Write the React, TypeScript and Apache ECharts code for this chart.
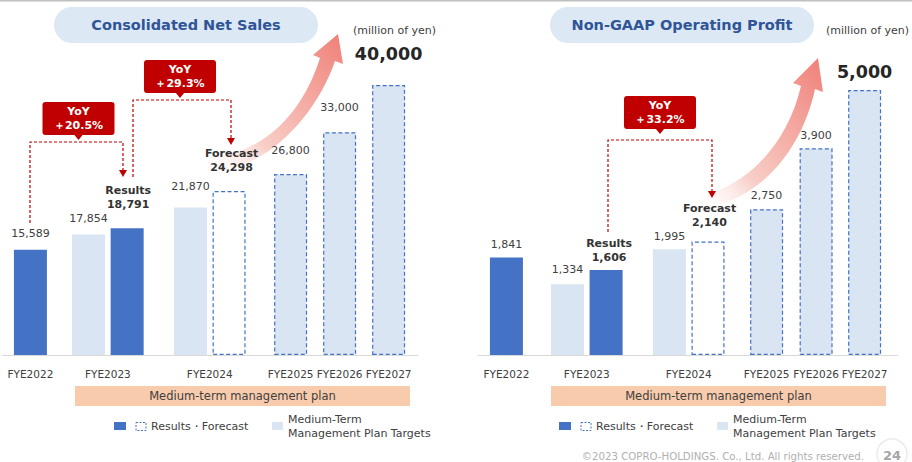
import React, { useEffect, useRef } from 'react';
import * as echarts from 'echarts';

// ---------- data ----------
const categories = ['FYE2022', 'FYE2023', 'FYE2024', 'FYE2025', 'FYE2026', 'FYE2027'];
// Consolidated Net Sales (million of yen)
const salesResults = [15589, 18791]; // FYE2022, FYE2023 results
const salesForecast = [24298]; // FYE2024 forecast
const salesTargets = [17854, 21870, 26800, 33000, 40000]; // FYE2023..FYE2027 plan targets
const salesYoY = [20.5, 29.3];
// Non-GAAP Operating Profit (million of yen)
const profitResults = [1841, 1606];
const profitForecast = [2140];
const profitTargets = [1334, 1995, 2750, 3900, 5000];
const profitYoY = [33.2];

// ---------- layout ----------
const leftCenters = [2.9, 10.8, 21.2, 29.45, 34.45, 39.45];
const rightCenters = [2.9, 11.1, 21.5, 29.45, 34.5, 39.45];
const PAIR = 1.97;
const FONT = 'DejaVu Sans';
const DARK = '#4472c4';
const LIGHT = '#dae5f4';
const TXT = '#404040';
const RED = '#c00000';

const fmt = (v: number) => v.toLocaleString('en-US');

type LabelCfg = { d: number; dx?: number; title?: string; big?: boolean };

function makeLabel(cfg: LabelCfg) {
  if (cfg.title) {
    return {
      show: true,
      position: 'top',
      distance: cfg.d,
      offset: [cfg.dx || 0, 0],
      formatter: (p: any) => `{t|${cfg.title}}\n{v|${fmt(p.value[1])}}`,
      rich: {
        t: { fontFamily: FONT, fontWeight: 'bold', fontSize: 11, color: '#333', lineHeight: 14 },
        v: { fontFamily: FONT, fontWeight: 'bold', fontSize: 11, color: '#333', lineHeight: 14 },
      },
    };
  }
  if (cfg.big) {
    return {
      show: true,
      position: 'top',
      distance: cfg.d,
      formatter: (p: any) => fmt(p.value[1]),
      fontFamily: FONT,
      fontWeight: 'bold',
      fontSize: 17.5,
      lineHeight: 22,
      color: '#262626',
    };
  }
  return {
    show: true,
    position: 'top',
    distance: cfg.d,
    offset: [cfg.dx || 0, 0],
    formatter: (p: any) => fmt(p.value[1]),
    fontFamily: FONT,
    fontSize: 11,
    lineHeight: 13,
    color: TXT,
  };
}

const dashedStyle = { color: '#ffffff', borderColor: DARK, borderWidth: 1.2, borderType: [4, 2.5] };
const dashedLight = { color: LIGHT, borderColor: DARK, borderWidth: 1.2, borderType: [4, 2.5] };

function buildSeries(
  idx: number,
  centers: number[],
  results: number[],
  forecast: number[],
  targets: number[],
  resLabels: LabelCfg[],
  fcLabel: LabelCfg,
  tgtLabels: LabelCfg[]
) {
  const resultData = [
    { value: [centers[0], results[0]], itemStyle: { color: DARK }, label: makeLabel(resLabels[0]) },
    { value: [centers[1] + PAIR, results[1]], itemStyle: { color: DARK }, label: makeLabel(resLabels[1]) },
    { value: [centers[2] + PAIR, forecast[0]], itemStyle: dashedStyle, label: makeLabel(fcLabel) },
  ];
  const targetData = targets.map((v, i) => {
    const cat = i + 1;
    const x = cat <= 2 ? centers[cat] - PAIR : centers[cat];
    return {
      value: [x, v],
      itemStyle: cat <= 2 ? { color: LIGHT } : dashedLight,
      label: makeLabel(tgtLabels[i]),
    };
  });
  return [
    {
      type: 'bar',
      name: 'Medium-Term Management Plan Targets',
      xAxisIndex: idx,
      yAxisIndex: idx,
      barWidth: 33,
      barGap: '-100%',
      data: targetData,
      z: 2,
    },
    {
      type: 'bar',
      name: 'Results・Forecast',
      xAxisIndex: idx,
      yAxisIndex: idx,
      barWidth: 33,
      barGap: '-100%',
      data: resultData,
      z: 3,
    },
  ];
}

function xAxisFor(idx: number, centers: number[], max: number) {
  return {
    type: 'value',
    gridIndex: idx,
    min: 0,
    max,
    axisLine: { show: true, onZero: false, lineStyle: { color: '#d9d9d9', width: 1 } },
    axisTick: { show: false },
    splitLine: { show: false },
    axisLabel: {
      show: true,
      customValues: centers,
      hideOverlap: false,
      showMinLabel: true,
      showMaxLabel: true,
      margin: 13,
      fontFamily: FONT,
      fontSize: 10.5,
      color: TXT,
      formatter: (v: number) => {
        let best = 0;
        centers.forEach((c, i) => {
          if (Math.abs(c - v) < Math.abs(centers[best] - v)) best = i;
        });
        return categories[best];
      },
    },
  };
}

echarts.graphic.registerShape(
  'growthArrowL',
  echarts.graphic.extendPath(
    'M207,157 C262,155 302,115 320,58 L313,55 L338,34 L343,64 L335,61 C317,114 268,170 209,172 Z',
    {}
  )
);
echarts.graphic.registerShape(
  'growthArrowR',
  echarts.graphic.extendPath(
    'M700,196 C745,187 787,146 801,86 L793,83 L818,58 L823,92 L815,89 C802,150 760,200 704,208 Z',
    {}
  )
);

function arrowFill() {
  return new echarts.graphic.LinearGradient(0, 1, 1, 0, [
    { offset: 0, color: 'rgba(255,255,255,0.2)' },
    { offset: 0.3, color: '#f8cfc8' },
    { offset: 1, color: '#ef8078' },
  ]);
}

function callout(cx: number, top: number, yoy: number) {
  const w = 72;
  const h = 33;
  return [
    { type: 'rect', shape: { x: cx - w / 2, y: top, width: w, height: h, r: 3 }, style: { fill: RED } },
    {
      type: 'polygon',
      shape: { points: [[cx - 4.5, top + h - 0.5], [cx + 4.5, top + h - 0.5], [cx, top + h + 5]] },
      style: { fill: RED },
    },
    {
      type: 'text',
      x: cx,
      y: top + h / 2,
      style: {
        text: `YoY\n＋${yoy.toFixed(1)}%`,
        fontFamily: FONT,
        fontWeight: 'bold',
        fontSize: 11,
        lineHeight: 14,
        fill: '#ffffff',
        align: 'center',
        verticalAlign: 'middle',
      },
    },
  ];
}

function bracket(x1: number, y1: number, yTop: number, x2: number, yArrow: number) {
  return [
    {
      type: 'polyline',
      shape: { points: [[x1, y1], [x1, yTop], [x2, yTop], [x2, yArrow - 6]] },
      style: { stroke: RED, lineWidth: 1.2, lineDash: [3, 2], fill: null },
    },
    {
      type: 'polygon',
      shape: { points: [[x2 - 4, yArrow - 7], [x2 + 4, yArrow - 7], [x2, yArrow]] },
      style: { fill: RED },
    },
  ];
}

function legend(ox: number) {
  return [
    { type: 'rect', shape: { x: 114 + ox, y: 422, width: 12, height: 8 }, style: { fill: DARK } },
    {
      type: 'rect',
      shape: { x: 136 + ox, y: 422.5, width: 10, height: 8 },
      style: { fill: '#fff', stroke: DARK, lineWidth: 1, lineDash: [2, 1.5] },
    },
    {
      type: 'text',
      x: 151 + ox,
      y: 426,
      style: { text: 'Results・Forecast', fontFamily: FONT, fontSize: 11, fill: TXT, verticalAlign: 'middle' },
    },
    { type: 'rect', shape: { x: 272 + ox, y: 422, width: 11, height: 8 }, style: { fill: LIGHT } },
    {
      type: 'text',
      x: 288 + ox,
      y: 426,
      style: {
        text: 'Medium-Term\nManagement Plan Targets',
        fontFamily: FONT,
        fontSize: 11,
        lineHeight: 14,
        fill: TXT,
        verticalAlign: 'middle',
      },
    },
  ];
}

function planBar(x: number) {
  return [
    { type: 'rect', shape: { x, y: 386, width: 335, height: 20 }, style: { fill: '#f8cbad' } },
    {
      type: 'text',
      x: x + 167.5,
      y: 396,
      style: {
        text: 'Medium-term management plan',
        fontFamily: FONT,
        fontSize: 11.5,
        fill: TXT,
        align: 'center',
        verticalAlign: 'middle',
      },
    },
  ];
}

function titlePill(x: number, text: string) {
  return [
    { type: 'rect', shape: { x, y: 7, width: 264, height: 36, r: 18 }, style: { fill: '#dde8f5' } },
    {
      type: 'text',
      x: x + 132,
      y: 25,
      style: {
        text,
        fontFamily: FONT,
        fontWeight: 'bold',
        fontSize: 14.5,
        fill: '#2f5597',
        align: 'center',
        verticalAlign: 'middle',
      },
    },
  ];
}

export default function App() {
  const ref = useRef<HTMLDivElement>(null);
  useEffect(() => {
    if (!ref.current) return;
    const chart = echarts.init(ref.current, undefined, { renderer: 'svg' });
    const graphic: any[] = [
      { type: 'rect', shape: { x: 0, y: 0, width: 912, height: 1.5 }, style: { fill: '#c0c0c0' } },
      { type: 'growthArrowL', x: 0, y: 0, z: -1, style: { fill: arrowFill() } },
      { type: 'growthArrowR', x: 0, y: 0, z: -1, style: { fill: arrowFill() } },
      ...titlePill(54, 'Consolidated Net Sales'),
      ...titlePill(550, 'Non-GAAP Operating Profit'),
      {
        type: 'text',
        x: 353,
        y: 30,
        style: { text: '(million of yen)', fontFamily: FONT, fontSize: 11, fill: TXT, verticalAlign: 'middle' },
      },
      {
        type: 'text',
        x: 826,
        y: 30,
        style: { text: '(million of yen)', fontFamily: FONT, fontSize: 11, fill: TXT, verticalAlign: 'middle' },
      },
      ...bracket(30, 223, 142, 123, 177),
      ...bracket(133, 177, 100, 231, 145),
      ...bracket(608, 232, 140, 712, 198),
      ...callout(78.5, 102, salesYoY[0]),
      ...callout(180, 60, salesYoY[1]),
      ...callout(660, 96, profitYoY[0]),
      ...planBar(75),
      ...planBar(551),
      ...legend(0),
      ...legend(445),
      {
        type: 'text',
        x: 864,
        y: 456,
        style: {
          text: '©2023 COPRO-HOLDINGS. Co., Ltd. All rights reserved.',
          fontFamily: FONT,
          fontSize: 10.2,
          fill: '#b0b0b0',
          align: 'right',
          verticalAlign: 'middle',
        },
      },
      {
        type: 'circle',
        shape: { cx: 892, cy: 454, r: 15 },
        style: { fill: 'none', stroke: '#ececec', lineWidth: 1.5 },
      },
      {
        type: 'text',
        x: 892,
        y: 455,
        style: {
          text: '24',
          fontFamily: FONT,
          fontWeight: 'bold',
          fontSize: 13,
          fill: '#a6a6a6',
          align: 'center',
          verticalAlign: 'middle',
        },
      },
    ];

    const option: any = {
      animation: false,
      backgroundColor: '#ffffff',
      textStyle: { fontFamily: FONT },
      grid: [
        { left: 2, width: 416, top: 17.5, height: 337.5, containLabel: false },
        { left: 478, width: 420, top: 37, height: 318, containLabel: false },
      ],
      xAxis: [xAxisFor(0, leftCenters, 416 / 9.8), xAxisFor(1, rightCenters, 420 / 9.8)],
      yAxis: [
        { type: 'value', gridIndex: 0, min: 0, max: 50000, show: false, splitLine: { show: false } },
        { type: 'value', gridIndex: 1, min: 0, max: 6000, show: false, splitLine: { show: false } },
      ],
      series: [
        ...buildSeries(
          0,
          leftCenters,
          salesResults,
          salesForecast,
          salesTargets,
          [{ d: 9.3 }, { d: 17, dx: 1, title: 'Results' }],
          { d: 16, dx: 2.5, title: 'Forecast' },
          [{ d: 9 }, { d: 13.9 }, { d: 17.6 }, { d: 18.75 }, { d: 20, big: true }]
        ),
        ...buildSeries(
          1,
          rightCenters,
          profitResults,
          profitForecast,
          profitTargets,
          [{ d: 6.9 }, { d: 5.2, dx: 3, title: 'Results' }],
          { d: 11.6, dx: 1.5, title: 'Forecast' },
          [{ d: 7.8 }, { d: 5.8 }, { d: 7.75 }, { d: 6.8 }, { d: 7.3, big: true }]
        ),
      ],
      graphic,
    };
    chart.setOption(option);
    return () => chart.dispose();
  }, []);
  return (
    <div
      ref={ref}
      style={{ position: 'fixed', left: 0, top: 0, width: 912, height: 462, background: '#fff' }}
    />
  );
}
